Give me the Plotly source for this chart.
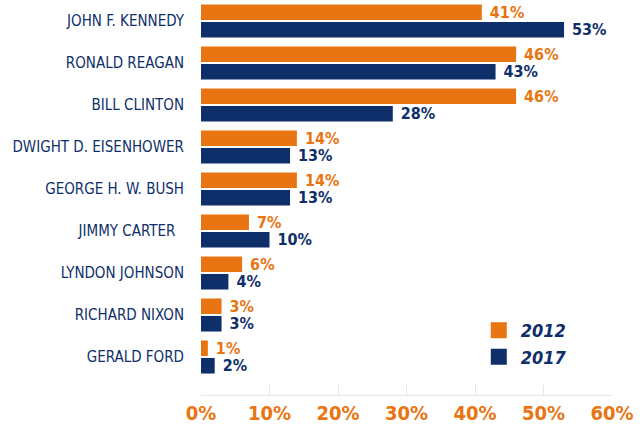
import plotly.graph_objects as go

presidents = ["JOHN F. KENNEDY", "RONALD REAGAN", "BILL CLINTON", "DWIGHT D. EISENHOWER",
              "GEORGE H. W. BUSH", "JIMMY CARTER\u00a0\u00a0", "LYNDON JOHNSON", "RICHARD NIXON", "GERALD FORD"]
v2012 = [41, 46, 46, 14, 14, 7, 6, 3, 1]
v2017 = [53, 43, 28, 13, 13, 10, 4, 3, 2]
years = ["2012", "2017"]
tick_vals = [0, 10, 20, 30, 40, 50, 60]
tick_text = ["0%", "10%", "20%", "30%", "40%", "50%", "60%"]

ORANGE = "#E87511"
NAVY = "#0E2F6A"
FONT = "DejaVu Sans Condensed, DejaVu Sans, sans-serif"

fig = go.Figure()
for name, vals, col in [(years[0], v2012, ORANGE), (years[1], v2017, NAVY)]:
    fig.add_trace(go.Bar(
        y=presidents, x=vals, orientation="h", name=name, showlegend=False,
        marker=dict(color=col, line=dict(width=0)),
        text=[f"\u00a0{v}%" for v in vals], textposition="outside", constraintext="none",
        textfont=dict(color=col, size=16, family=FONT, weight="bold"), cliponaxis=False,
        hoverinfo="skip",
    ))
# legend entries with large square swatches
for name, col in [(years[0], ORANGE), (years[1], NAVY)]:
    fig.add_trace(go.Scatter(
        x=[None], y=[None], mode="markers", name=name,
        marker=dict(symbol="square", size=18, color=col),
    ))

fig.update_layout(
    width=640, height=427,
    margin=dict(l=201, r=28, t=0, b=32),
    plot_bgcolor="white", paper_bgcolor="white",
    barmode="group", bargap=0.167, bargroupgap=0.11,
    font=dict(family=FONT, color=NAVY),
    legend=dict(x=0.671, y=0.21, xanchor="left", yanchor="top",
                font=dict(size=18, color=NAVY, family=FONT, style="italic", weight="bold"),
                itemwidth=34, tracegroupgap=2, bgcolor="rgba(0,0,0,0)"),
    showlegend=True,
)
fig.update_xaxes(
    range=[0, 60], tickvals=tick_vals, ticktext=tick_text,
    showgrid=False, zeroline=False, showline=True, linecolor="#E6E6E6", linewidth=1,
    ticks="inside", ticklen=10, tickcolor="#E6E6E6",
    tickfont=dict(size=20, color=ORANGE, family=FONT, weight="bold"),
)
fig.update_yaxes(
    range=[8.905, -0.5], showgrid=False, zeroline=False, showline=False, ticks="",
    tickfont=dict(size=15, color=NAVY, family=FONT), ticklabelstandoff=16,
)

fig.write_html("out.html", config={"displayModeBar": False},
               post_script="document.body.style.margin='0';document.body.style.overflow='hidden';")
